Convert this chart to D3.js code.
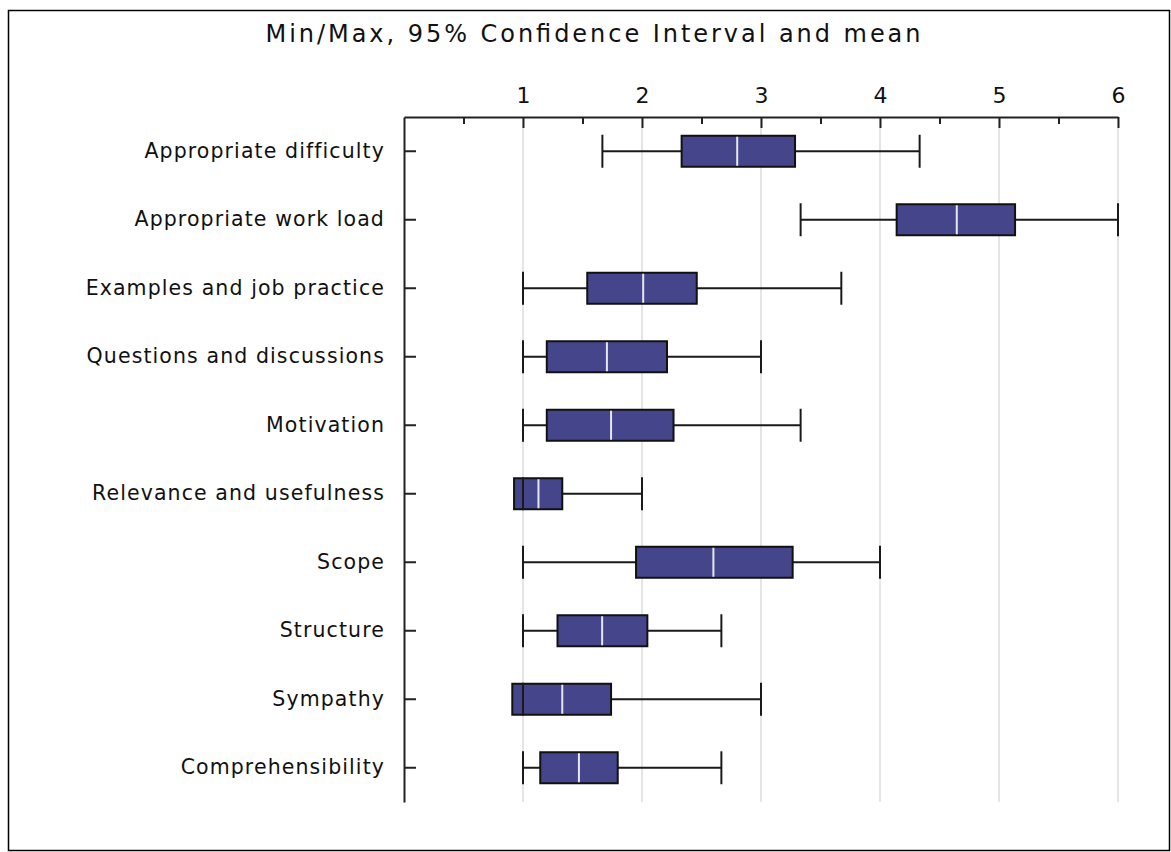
<!DOCTYPE html>
<html><head><meta charset="utf-8">
<script src="https://cdn.jsdelivr.net/npm/d3@7"></script>
<style>body{margin:0;background:#fff;} svg{display:block;}</style>
</head><body>
<svg id="c" width="1171" height="852"></svg>
<script>
const categories = ["Appropriate difficulty","Appropriate work load","Examples and job practice","Questions and discussions","Motivation","Relevance and usefulness","Scope","Structure","Sympathy","Comprehensibility"];
const minValues = [1.667, 3.333, 1, 1, 1, 1, 1, 1, 1, 1];
const ciLow    = [2.333, 4.14, 1.54, 1.20, 1.20, 0.925, 1.95, 1.29, 0.91, 1.145];
const meanValues = [2.80, 4.645, 2.01, 1.705, 1.74, 1.13, 2.60, 1.665, 1.33, 1.47];
const ciHigh   = [3.286, 5.135, 2.46, 2.21, 2.265, 1.33, 3.266, 2.045, 1.74, 1.796];
const maxValues = [4.333, 6, 3.675, 3, 3.333, 2, 4, 2.667, 3, 2.667];
const majorTicks = [1,2,3,4,5,6];
const minorTicks = [0.5,1.5,2.5,3.5,4.5,5.5];
const title = "Min/Max, 95% Confidence Interval and mean";

const svg = d3.select("#c");
const font = "DejaVu Sans, Verdana, sans-serif";
svg.append("rect").attr("x",8.5).attr("y",10.5).attr("width",1161).attr("height",840)
  .attr("fill","#fff").attr("stroke","#000").attr("stroke-width",1.5);

const x = d3.scaleLinear().domain([0,6]).range([404,1118]);
const y = d3.scaleBand().domain(categories).range([117,802]);
const bh = 31;

// gridlines
svg.append("g").selectAll("line").data(majorTicks).join("line")
  .attr("x1",d=>x(d)).attr("x2",d=>x(d)).attr("y1",117).attr("y2",802)
  .attr("stroke","#dcdcdc").attr("stroke-width",1.5);

// title
svg.append("text").attr("x",593).attr("y",42).attr("text-anchor","middle")
  .attr("font-family",font).attr("font-size",24).attr("fill","#111")
  .attr("textLength",655).attr("lengthAdjust","spacing").text(title);

// top axis
const gx = svg.append("g").attr("transform","translate(0,117)")
  .call(d3.axisTop(x).tickValues(majorTicks).tickSizeInner(-11).tickSizeOuter(0).tickPadding(14).tickFormat(d3.format("d")));
gx.selectAll("text").attr("font-family",font).attr("font-size",22).attr("fill","#111");
gx.selectAll("line,path").attr("stroke","#222").attr("stroke-width",2);
const gm = svg.append("g").attr("transform","translate(0,117)")
  .call(d3.axisTop(x).tickValues(minorTicks).tickSizeInner(-7).tickSizeOuter(0).tickFormat(""));
gm.select("path").remove();
gm.selectAll("line").attr("stroke","#222").attr("stroke-width",2);

// left axis
const gy = svg.append("g").attr("transform","translate(404,0)")
  .call(d3.axisLeft(y).tickSizeInner(-12).tickSizeOuter(0).tickPadding(19));
gy.selectAll("text").attr("font-family",font).attr("font-size",20.5).attr("letter-spacing","1.1px").attr("fill","#111");
gy.selectAll("line,path").attr("stroke","#222").attr("stroke-width",2);

const rows = categories.map((c,i)=>({c,min:minValues[i],lo:ciLow[i],mean:meanValues[i],hi:ciHigh[i],max:maxValues[i]}));
const g = svg.append("g");
const cy = d=>y(d.c)+y.bandwidth()/2;
g.selectAll(".wh").data(rows).join("line")
  .attr("x1",d=>x(d.min)).attr("x2",d=>x(d.max)).attr("y1",cy).attr("y2",cy)
  .attr("stroke","#1a1a1a").attr("stroke-width",2);
g.selectAll(".box").data(rows).join("rect")
  .attr("x",d=>x(d.lo)).attr("width",d=>x(d.hi)-x(d.lo))
  .attr("y",d=>cy(d)-bh/2).attr("height",bh)
  .attr("fill","#45458c").attr("stroke","#111").attr("stroke-width",2);
["min","max"].forEach(k=>{
  g.selectAll(".cap"+k).data(rows).join("line")
    .attr("x1",d=>x(d[k])).attr("x2",d=>x(d[k]))
    .attr("y1",d=>cy(d)-bh/2-1).attr("y2",d=>cy(d)+bh/2+1)
    .attr("stroke","#1a1a1a").attr("stroke-width",2);
});
g.selectAll(".mean").data(rows).join("line")
  .attr("x1",d=>x(d.mean)).attr("x2",d=>x(d.mean))
  .attr("y1",d=>cy(d)-bh/2+1).attr("y2",d=>cy(d)+bh/2-1)
  .attr("stroke","#e6e6ee").attr("stroke-width",2);
</script>
</body></html>
